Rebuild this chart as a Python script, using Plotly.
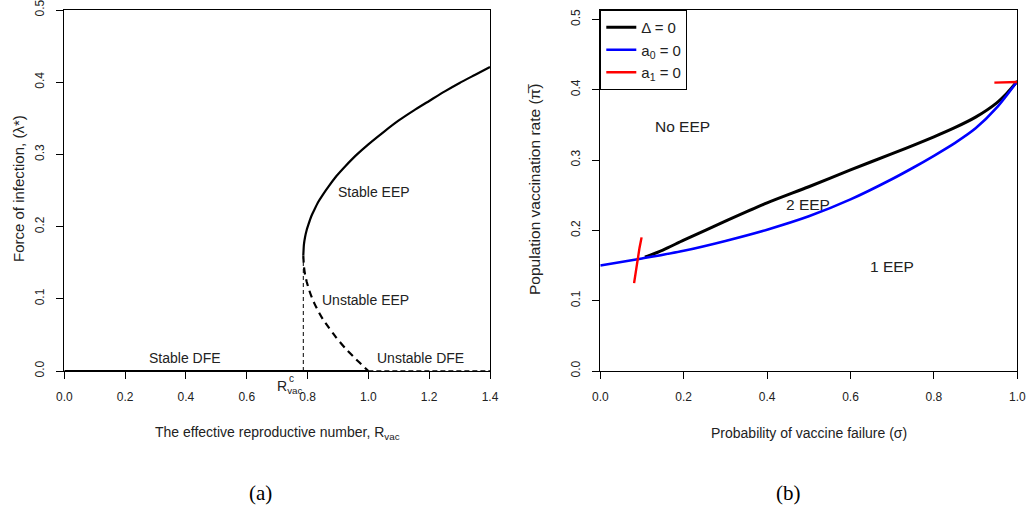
import plotly.graph_objects as go

# ---------- Panel (a) data ----------
stable_eep_R = [0.786, 0.788, 0.792, 0.797, 0.803, 0.812, 0.822, 0.835, 0.850, 0.870, 0.895, 0.925, 0.960,
                1.000, 1.050, 1.100, 1.150, 1.200, 1.250, 1.300, 1.350, 1.400]
stable_eep_L = [0.160, 0.175, 0.186, 0.195, 0.203, 0.214, 0.223, 0.234, 0.244, 0.256, 0.270, 0.284, 0.299,
                0.314, 0.331, 0.347, 0.361, 0.374, 0.387, 0.399, 0.410, 0.421]
unstable_eep_R = [0.786, 0.788, 0.792, 0.797, 0.803, 0.812, 0.822, 0.835, 0.850, 0.870, 0.895, 0.925, 0.960, 1.000]
unstable_eep_L = [0.160, 0.145, 0.133, 0.124, 0.115, 0.104, 0.094, 0.083, 0.072, 0.060, 0.046, 0.031, 0.016, 0.000]
stable_dfe_R = [0.0, 1.0]
stable_dfe_L = [0.0, 0.0]
unstable_dfe_R = [1.0, 1.4]
unstable_dfe_L = [0.0, 0.0]
rc_R = [0.786, 0.786]
rc_L = [0.0, 0.158]

# ---------- Panel (b) data ----------
delta_sigma = [0.107, 0.150, 0.200, 0.300, 0.400, 0.500, 0.600, 0.700, 0.800, 0.850, 0.900, 0.950, 0.975, 1.000]
delta_pi = [0.162, 0.172, 0.186, 0.213, 0.239, 0.262, 0.286, 0.309, 0.333, 0.346, 0.361, 0.381, 0.395, 0.412]
a0_sigma = [0.0, 0.100, 0.200, 0.300, 0.400, 0.500, 0.600, 0.700, 0.750, 0.800, 0.850, 0.900, 0.950, 1.000]
a0_pi = [0.150, 0.160, 0.171, 0.185, 0.201, 0.220, 0.244, 0.273, 0.289, 0.306, 0.324, 0.345, 0.374, 0.412]
a1_sigma = [0.081, 0.085, 0.089, 0.094, 0.099, None, 0.945, 0.970, 1.000]
a1_pi = [0.125, 0.142, 0.159, 0.175, 0.190, None, 0.410, 0.410, 0.411]

ticks_a_x = [0.0, 0.2, 0.4, 0.6, 0.8, 1.0, 1.2, 1.4]
ticks_b_x = [0.0, 0.2, 0.4, 0.6, 0.8, 1.0]
ticks_y = [0.0, 0.1, 0.2, 0.3, 0.4, 0.5]

FONT = "Liberation Sans, Arial, sans-serif"
TXT = "#222222"

fig = go.Figure()

# Panel (a)
fig.add_trace(go.Scatter(x=stable_eep_R, y=stable_eep_L, mode="lines", line=dict(color="black", width=2.2, shape="spline", smoothing=0.5), showlegend=False, xaxis="x", yaxis="y"))
fig.add_trace(go.Scatter(x=unstable_eep_R, y=unstable_eep_L, mode="lines", line=dict(color="black", width=2.2, dash="7px,5px", shape="spline", smoothing=0.5), showlegend=False, xaxis="x", yaxis="y"))
fig.add_trace(go.Scatter(x=stable_dfe_R, y=stable_dfe_L, mode="lines", line=dict(color="black", width=2.2), showlegend=False, xaxis="x", yaxis="y"))
fig.add_trace(go.Scatter(x=unstable_dfe_R, y=unstable_dfe_L, mode="lines", line=dict(color="black", width=1.6, dash="5px,3px"), showlegend=False, xaxis="x", yaxis="y"))
fig.add_trace(go.Scatter(x=rc_R, y=rc_L, mode="lines", line=dict(color="black", width=1, dash="4px,3px"), showlegend=False, xaxis="x", yaxis="y"))

# Panel (b)
fig.add_trace(go.Scatter(x=delta_sigma, y=delta_pi, mode="lines", name="\u0394 = 0", line=dict(color="black", width=3, shape="spline", smoothing=0.8), xaxis="x2", yaxis="y2"))
fig.add_trace(go.Scatter(x=a0_sigma, y=a0_pi, mode="lines", name="a<sub>0</sub> = 0", line=dict(color="#0000ff", width=2.6, shape="spline", smoothing=0.8), xaxis="x2", yaxis="y2"))
fig.add_trace(go.Scatter(x=a1_sigma, y=a1_pi, mode="lines", name="a<sub>1</sub> = 0", line=dict(color="#ff0000", width=2.4), connectgaps=False, xaxis="x2", yaxis="y2"))

axis_common = dict(showline=True, linecolor="black", linewidth=1, mirror=True, ticks="outside",
                   ticklen=7, tickcolor="black", showgrid=False, zeroline=False, automargin=False,
                   ticklabeloverflow="allow",
                   tickfont=dict(family=FONT, size=12, color=TXT))

fig.update_layout(
    width=1031, height=513,
    margin=dict(l=0, r=0, t=0, b=0, autoexpand=False),
    paper_bgcolor="white", plot_bgcolor="white",
    xaxis=dict(domain=[64.3 / 1031, 490 / 1031], range=[0, 1.4], tickvals=ticks_a_x,
               ticktext=[f"{v:.1f}" for v in ticks_a_x], ticklabelstandoff=8, anchor="y", **axis_common),
    yaxis=dict(domain=[1 - 371 / 513, 1 - 10 / 513], range=[0, 0.5], tickvals=ticks_y,
               ticktext=[f"{v:.1f}" for v in ticks_y], tickangle=-90, ticklabelstandoff=8, anchor="x", **axis_common),
    xaxis2=dict(domain=[600.3 / 1031, 1017.3 / 1031], range=[0, 1.0], tickvals=ticks_b_x,
                ticktext=[f"{v:.1f}" for v in ticks_b_x], ticklabelstandoff=8, anchor="y2", **axis_common),
    yaxis2=dict(domain=[1 - 371 / 513, 1 - 10 / 513], range=[0, 0.5133], tickvals=ticks_y,
                ticktext=[f"{v:.1f}" for v in ticks_y], tickangle=-90, ticklabelstandoff=8, anchor="x2", **axis_common),
    legend=dict(x=600.3 / 1031, y=1 - 10 / 513, xanchor="left", yanchor="top",
                bordercolor="black", borderwidth=1, bgcolor="white",
                font=dict(family=FONT, size=15, color=TXT), itemwidth=30, tracegroupgap=0),
    showlegend=True,
)

def ann(text, x, y, xref="paper", yref="paper", size=14, angle=0, family=FONT, color=TXT):
    fig.add_annotation(text=text, x=x, y=y, xref=xref, yref=yref, showarrow=False,
                       font=dict(family=family, size=size, color=color), textangle=angle,
                       xanchor="center", yanchor="middle")

# Panel (a) labels
ann("Stable DFE", 0.397, 0.018, "x", "y", 14)
ann("Unstable DFE", 1.17, 0.018, "x", "y", 14)
ann("Stable EEP", 1.018, 0.248, "x", "y", 14)
ann("Unstable EEP", 0.992, 0.098, "x", "y", 14)
ann("R<sub>vac</sub>", 289 / 1031, 1 - 387 / 513, size=14)
ann("c", 291 / 1031, 1 - 378 / 513, size=10)

# Panel (b) labels
ann("No EEP", 0.198, 0.348, "x2", "y2", 15.5)
ann("2 EEP", 0.498, 0.237, "x2", "y2", 15.5)
ann("1 EEP", 0.699, 0.149, "x2", "y2", 15.5)

# Axis titles
ann("The effective reproductive number, R<sub>vac</sub>", 277 / 1031, 1 - 433 / 513, size=14)
ann("Probability of vaccine failure (\u03c3)", 808.8 / 1031, 1 - 433 / 513, size=14)
ann("Force of infection, (\u03bb*)", 18 / 1031, 1 - 189 / 513, size=15, angle=-90)
ann("Population vaccination rate (\u03c0\u0305)", 534 / 1031, 1 - 190 / 513, size=15.5, angle=-90)

# Panel captions
ann("(a)", 260 / 1031, 1 - 493 / 513, size=21, family="Liberation Serif, DejaVu Serif, serif", color="black")
ann("(b)", 788 / 1031, 1 - 493 / 513, size=21, family="Liberation Serif, DejaVu Serif, serif", color="black")

fig.write_html("out.html", post_script="document.body.style.margin='0';document.body.style.padding='0';document.documentElement.style.overflow='hidden';")
